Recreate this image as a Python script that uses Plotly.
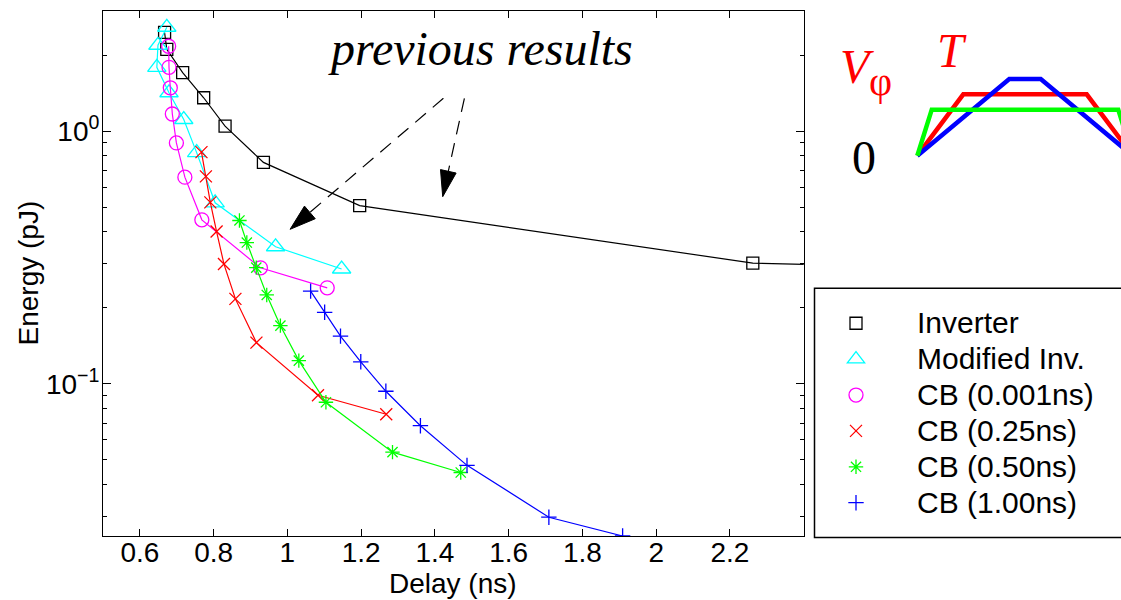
import plotly.graph_objects as go
import math

W, H = 1121, 600

# ---------------- data ----------------
inv_delay = [0.667, 0.673, 0.716, 0.773, 0.831, 0.935, 1.196, 2.262, 2.6]
inv_energy = [2.46, 2.11, 1.705, 1.357, 1.047, 0.753, 0.508, 0.3005, 0.292]

mod_delay = [0.673, 0.649, 0.646, 0.679, 0.719, 0.754, 0.804, 0.968, 1.147]
mod_energy = [2.58, 2.19, 1.79, 1.42, 1.113, 0.823, 0.521, 0.349, 0.285]

cb001_delay = [0.678, 0.679, 0.6825, 0.688, 0.699, 0.722, 0.768, 0.927, 1.108]
cb001_energy = [2.17, 1.79, 1.486, 1.17, 0.899, 0.658, 0.446, 0.288, 0.240]

cb025_delay = [0.767, 0.779, 0.791, 0.808, 0.828, 0.859, 0.916, 1.083, 1.268]
cb025_energy = [0.827, 0.663, 0.523, 0.401, 0.298, 0.217, 0.1457, 0.0902, 0.0758]

cb050_delay = [0.870, 0.890, 0.9156, 0.944, 0.981, 1.031, 1.1045, 1.285, 1.470]
cb050_energy = [0.4434, 0.3626, 0.2886, 0.2249, 0.170, 0.1236, 0.0846, 0.0537, 0.0446]

cb100_delay = [1.063, 1.101, 1.144, 1.199, 1.267, 1.3607, 1.487, 1.709, 1.909]
cb100_energy = [0.233, 0.192, 0.1546, 0.1223, 0.0935, 0.0683, 0.0476, 0.02967, 0.0250]

series_names = ["Inverter", "Modified Inv.", "CB (0.001ns)", "CB (0.25ns)",
                "CB (0.50ns)", "CB (1.00ns)"]

x_ticks = [0.6, 0.8, 1.0, 1.2, 1.4, 1.6, 1.8, 2.0, 2.2]
x_ticklabels = ["0.6", "0.8", "1", "1.2", "1.4", "1.6", "1.8", "2", "2.2"]
y_ticks = [1, 0.1]
y_ticklabels = ["10<sup>0</sup>", "10<sup>\u22121</sup>"]
y_minor = [0.03, 0.04, 0.05, 0.06, 0.07, 0.08, 0.09,
           0.2, 0.3, 0.4, 0.5, 0.6, 0.7, 0.8, 0.9, 2, 3]

# inset waveform sketches (normalised time, normalised voltage)
wave_t_red = [0.0, 0.2135, 0.7865, 1.0]
wave_v_red = [0.0, 0.8, 0.8, 0.0]
wave_t_blue = [0.0, 0.427, 0.573, 1.0]
wave_v_blue = [0.0, 1.0, 1.0, 0.0]
wave_t_green = [0.0, 0.067, 0.933, 1.0]
wave_v_green = [0.0, 0.6, 0.6, 0.0]

# ---------------- helpers ----------------
def px(x):
    return x / W


def py(y):
    return 1 - y / H


SANS = "Liberation Sans"
SERIF = "Liberation Serif"

styles = [
    dict(color="#000000", symbol="square-open", size=12),
    dict(color="#00ffff", symbol="triangle-up-open", size=16),
    dict(color="#ff00ff", symbol="circle-open", size=14),
    dict(color="#ff0000", symbol="x-thin-open", size=12),
    dict(color="#00ff00", symbol="asterisk-open", size=12),
    dict(color="#0000ff", symbol="cross-thin-open", size=11),
]
datasets = [
    (inv_delay, inv_energy),
    (mod_delay, mod_energy),
    (cb001_delay, cb001_energy),
    (cb025_delay, cb025_energy),
    (cb050_delay, cb050_energy),
    (cb100_delay, cb100_energy),
]

fig = go.Figure()

for (xd, yd), st in zip(datasets, styles):
    fig.add_trace(go.Scatter(
        x=xd, y=yd, mode="lines+markers", showlegend=False,
        line=dict(color=st["color"], width=1.2),
        marker=dict(symbol=st["symbol"], size=st["size"], color=st["color"],
                    line=dict(color=st["color"], width=1.3)),
        xaxis="x", yaxis="y",
    ))

# legend-only entries (marker only, as in the reference)
for name, st in zip(series_names, styles):
    fig.add_trace(go.Scatter(
        x=[None], y=[None], mode="markers",
        name='<span style="font-size:30px">' + name + '</span>',
        marker=dict(symbol=st["symbol"], size=min(st["size"], 15), color=st["color"],
                    line=dict(color=st["color"], width=1.3)),
        xaxis="x", yaxis="y",
    ))

# inset waveforms
for t, v, c in [(wave_t_red, wave_v_red, "#ff0000"),
                (wave_t_blue, wave_v_blue, "#0000ff"),
                (wave_t_green, wave_v_green, "#00ff00")]:
    fig.add_trace(go.Scatter(
        x=t, y=v, mode="lines", showlegend=False, hoverinfo="skip",
        line=dict(color=c, width=4.5),
        xaxis="x2", yaxis="y2",
    ))

# ---------------- layout ----------------
L, R, T, B = 103.0, 803.7, 10.7, 536.0

fig.update_layout(
    width=W, height=H,
    margin=dict(l=0, r=0, t=0, b=0, autoexpand=False),
    paper_bgcolor="white", plot_bgcolor="white",
    font=dict(family=SANS, color="black"),
    xaxis=dict(
        domain=[px(L), px(R)], range=[0.5, 2.4],
        tickmode="array", tickvals=x_ticks, ticktext=x_ticklabels,
        ticks="inside", ticklen=7, tickwidth=1, tickcolor="black",
        showline=True, linecolor="black", linewidth=1, mirror="allticks",
        showgrid=False, zeroline=False,
        tickfont=dict(family=SANS, size=28, color="black"),
        ticklabelstandoff=-9,
        anchor="y",
    ),
    yaxis=dict(
        domain=[py(B), py(T)], type="log",
        range=[math.log10(0.025), math.log10(3.0)],
        tickmode="array", tickvals=y_ticks, ticktext=y_ticklabels,
        ticks="inside", ticklen=8, tickwidth=1, tickcolor="black",
        minor=dict(tickmode="array", tickvals=y_minor, ticks="inside",
                   ticklen=4, tickwidth=1, tickcolor="black", showgrid=False),
        showline=True, linecolor="black", linewidth=1, mirror="allticks",
        showgrid=False, zeroline=False,
        tickfont=dict(family=SANS, size=28, color="black"),
        ticklabelstandoff=-3,
        anchor="x",
    ),
    xaxis2=dict(domain=[px(913.0), 1.0], range=[-0.02, 0.9457], visible=False,
                anchor="y2"),
    yaxis2=dict(domain=[py(163.4), py(71.3)], range=[-0.1, 1.1], visible=False,
                anchor="x2"),
    showlegend=True,
    legend=dict(
        x=px(795), y=py(300.3), xanchor="left", yanchor="top",
        bgcolor="rgba(0,0,0,0)", borderwidth=0,
        font=dict(family=SANS, size=25.3, color="black"),
        itemwidth=112, tracegroupgap=0,
    ),
)

shapes = []
# legend frame (runs off the right edge as in the reference)
shapes.append(dict(type="rect", xref="paper", yref="paper",
                   x0=px(814.5), x1=px(1135), y0=py(288.3), y1=py(537.5),
                   line=dict(color="black", width=1.5), fillcolor="rgba(0,0,0,0)",
                   layer="below"))


def arrow(sx, sy, tx, ty, head_len, half_w):
    dx, dy = tx - sx, ty - sy
    n = math.hypot(dx, dy)
    ux, uy = dx / n, dy / n
    bx, by = tx - ux * head_len, ty - uy * head_len
    nx, ny = -uy, ux
    out = [dict(type="line", xref="paper", yref="paper",
                x0=px(sx), y0=py(sy), x1=px(bx), y1=py(by),
                line=dict(color="black", width=1.2, dash="14px,9px"))]
    p1 = (bx + nx * half_w, by + ny * half_w)
    p2 = (bx - nx * half_w, by - ny * half_w)
    path = "M {:.5f} {:.5f} L {:.5f} {:.5f} L {:.5f} {:.5f} Z".format(
        px(tx), py(ty), px(p1[0]), py(p1[1]), px(p2[0]), py(p2[1]))
    out.append(dict(type="path", xref="paper", yref="paper", path=path,
                    fillcolor="black", line=dict(color="black", width=1)))
    return out


shapes += arrow(443.4, 98.3, 290.1, 229.3, 26, 8.3)
shapes += arrow(464.4, 98.3, 442.7, 196.7, 26, 8.0)
fig.update_layout(shapes=shapes)

ann = []
ann.append(dict(text="Delay (ns)", x=px(453.4), y=py(583.5), xref="paper", yref="paper",
                showarrow=False, xanchor="center", yanchor="middle",
                font=dict(family=SANS, size=28, color="black")))
ann.append(dict(text="Energy (pJ)", x=px(28), y=py(273.5), xref="paper", yref="paper",
                showarrow=False, xanchor="center", yanchor="middle", textangle=-90,
                font=dict(family=SANS, size=28, color="black")))
ann.append(dict(text="<i>previous results</i>", x=px(480.5), y=py(48.8),
                xref="paper", yref="paper", showarrow=False,
                xanchor="center", yanchor="middle",
                font=dict(family=SERIF, size=48, color="black")))
ann.append(dict(text="<i>V</i>", x=px(856.7), y=py(66.7), xref="paper", yref="paper",
                showarrow=False, xanchor="center", yanchor="middle",
                font=dict(family=SERIF, size=48, color="#ff0000")))
ann.append(dict(text="\u03c6", x=px(880), y=py(81), xref="paper", yref="paper",
                showarrow=False, xanchor="center", yanchor="middle",
                font=dict(family=SERIF, size=40, color="#ff0000")))
ann.append(dict(text="<i>T</i>", x=px(952), y=py(50), xref="paper", yref="paper",
                showarrow=False, xanchor="center", yanchor="middle",
                font=dict(family=SERIF, size=48, color="#ff0000")))
ann.append(dict(text="0", x=px(864), y=py(157.5), xref="paper", yref="paper",
                showarrow=False, xanchor="center", yanchor="middle",
                font=dict(family=SERIF, size=48, color="black")))
fig.update_layout(annotations=ann)

fig.write_html("out.html")
